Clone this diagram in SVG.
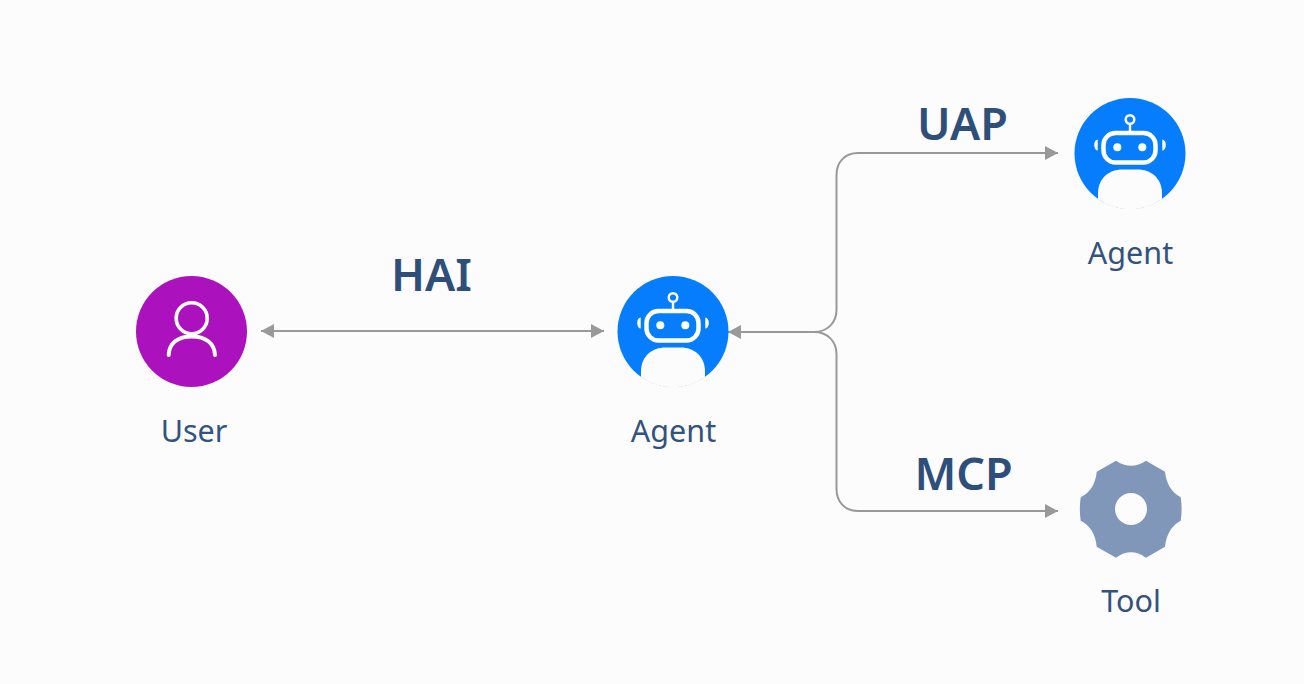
<svg xmlns="http://www.w3.org/2000/svg" width="1304" height="684" viewBox="0 0 1304 684">
<style>
.lbl{font-family:"Noto Sans",sans-serif;font-size:30.500px;fill:#34527f;text-anchor:middle}
.proto{font-family:"Noto Sans",sans-serif;font-size:45px;font-weight:600;fill:#2f4f7b;text-anchor:middle}
.conn{fill:none;stroke:#999;stroke-width:2}
</style>
<defs>
<marker id="arr" markerUnits="userSpaceOnUse" markerWidth="14" markerHeight="14" refX="13" refY="7" orient="auto-start-reverse"><path d="M0 0L13 7L0 14Z" fill="#999"/></marker>
<g id="robot">
<circle cx="0" cy="0" r="55.500" fill="#067dfd"/>
<path d="M-32 45.800V40C-32 24-20 16-8 16H8C20 16 32 24 32 40V45.800A56.500 56.500 0 0 1-32 45.800Z" fill="#fcfcfc"/>
<rect x="-26.500" y="-20.500" width="52" height="29.500" rx="12" fill="none" stroke="#fff" stroke-width="4.500"/>
<circle cx="-12.700" cy="-6.300" r="4" fill="#fff"/>
<circle cx="12.300" cy="-6.300" r="4" fill="#fff"/>
<circle cx="0" cy="-34" r="4.300" fill="none" stroke="#fff" stroke-width="2.400"/>
<path d="M0-30V-22" stroke="#fff" stroke-width="2.400"/>
<path d="M-32.300-14A3.500 5.500 0 0 0-32.300-3Z M32.300-14A3.500 5.500 0 0 1 32.300-3Z" fill="#fff"/>
</g>
</defs>
<rect width="1304" height="684" fill="#fcfcfc"/>
<g id="connectors">
<path class="conn" d="M261 331H604" marker-start="url(#arr)" marker-end="url(#arr)"/>
<path class="conn" d="M728 332H814C827 332 836.500 323 836.500 310V175C836.500 162 845 153 858 153H1058" marker-start="url(#arr)" marker-end="url(#arr)"/>
<path class="conn" d="M728 332H814C827 332 836.500 341 836.500 354V489C836.500 502 845 511 858 511H1058" marker-end="url(#arr)"/>
</g>
<g id="label-hai"><text class="proto" x="431.500" y="291">HAI</text></g>
<g id="label-uap"><text class="proto" x="962.500" y="140">UAP</text></g>
<g id="label-mcp"><text class="proto" x="963.500" y="490">MCP</text></g>
<g id="node-user">
<circle cx="191.500" cy="331.500" r="55.500" fill="#ab11bd"/>
<circle cx="191.700" cy="318.300" r="15.500" fill="none" stroke="#fff" stroke-width="3.600"/>
<path d="M168.700 355C169 343 178 336.500 191.700 336.500S214.500 343 215 355" fill="none" stroke="#fff" stroke-width="4" stroke-linecap="round"/>
<text class="lbl" x="194" y="442">User</text>
</g>
<g id="node-agent">
<use href="#robot" x="673" y="331.500"/>
<text class="lbl" x="673.500" y="442">Agent</text>
</g>
<g id="node-agent-2">
<use href="#robot" x="1130" y="153.500"/>
<text class="lbl" x="1130.500" y="264">Agent</text>
</g>
<g id="node-tool">
<path fill-rule="evenodd" fill="#8097ba" d="M1116 460.700Q1131 471 1146 460.700L1165 471.700Q1167 490 1180.700 497.300Q1182.500 509 1180.700 520.700Q1167 528 1165 546.700L1146 557.700Q1131 547 1116 557.700L1096.700 546.700Q1095 528 1080.700 520.700Q1079 509 1080.700 497.300Q1095 490 1096.700 471.700ZM1147 509A16 16 0 1 0 1115 509A16 16 0 1 0 1147 509Z"/>
<text class="lbl" x="1131" y="612">Tool</text>
</g>
</svg>
